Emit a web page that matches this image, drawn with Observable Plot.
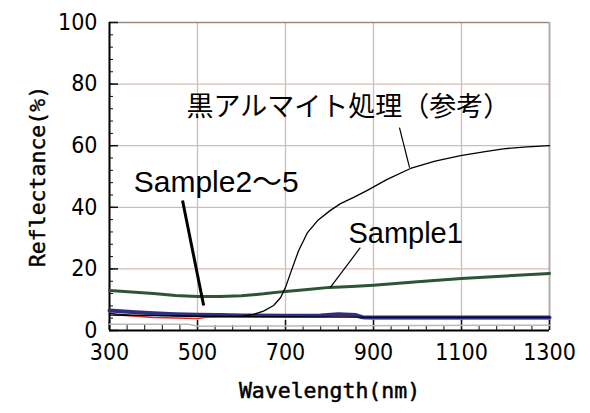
<!DOCTYPE html>
<html>
<head>
<meta charset="utf-8">
<script src="https://cdn.jsdelivr.net/npm/d3@7"></script>
<script src="https://cdn.jsdelivr.net/npm/@observablehq/plot@0.6"></script>
<style>
  html, body { margin: 0; padding: 0; background: #fff; }
</style>
</head>
<body>
<div id="chart"></div>
<script>
// ---- data ----
const xMajor = [300, 500, 700, 900, 1100, 1300];
const yMajor = [0, 20, 40, 60, 80, 100];
const xGrid = [500, 700, 900, 1100];
const yGrid = [20, 40, 60, 80];
const xMinor = d3.range(300, 1301, 40);
const yMinor = d3.range(0, 101, 4);

// 黒アルマイト処理（参考）
const wlAnod = [300, 400, 500, 600, 627, 650, 673, 689, 700, 716, 730, 750, 773, 802, 825, 855, 886, 930, 984, 1040, 1098, 1150, 1195, 1250, 1300];
const rAnod  = [5.0, 4.8, 4.6, 4.6, 5.2, 6.3, 8.1, 10.7, 14.0, 20.5, 26.0, 31.8, 35.7, 39.0, 41.2, 43.2, 45.5, 49.0, 52.6, 55.0, 56.8, 58.0, 59.0, 59.6, 60.0];

// Sample1
const wlS1 = [300, 350, 400, 450, 500, 550, 600, 650, 700, 750, 800, 850, 900, 1000, 1100, 1200, 1300];
const rS1  = [13.0, 12.5, 12.0, 11.4, 11.0, 11.0, 11.3, 11.9, 12.7, 13.3, 14.0, 14.3, 14.7, 15.8, 16.9, 17.7, 18.5];

// Sample2〜5 (blue, red, black, gray)
const wlBlue = [300, 350, 400, 450, 500, 550, 600, 700, 780, 820, 860, 875, 900, 1000, 1100, 1200, 1300];
const rBlue  = [6.5, 6.0, 5.6, 5.3, 5.1, 5.0, 4.9, 4.8, 4.9, 5.3, 5.0, 4.3, 4.2, 4.2, 4.2, 4.2, 4.2];
const wlRed = [300, 320, 400, 500, 520, 600, 700, 860, 880, 1000, 1300];
const rRed  = [5.8, 5.0, 4.2, 3.9, 4.3, 4.4, 4.4, 4.4, 3.9, 3.9, 3.9];
const wlBlk = [300, 350, 500, 700, 900, 1300];
const rBlk  = [5.5, 5.0, 4.6, 4.5, 4.3, 4.3];
const wlGray = [300, 480, 500, 700, 1000, 1300];
const rGray  = [2.0, 2.0, 1.4, 1.5, 1.6, 1.7];

// annotations (data coordinates)
const labels = ["黒アルマイト処理（参考）", "Sample2～5", "Sample1"];
const labelX = [475, 355, 843];
const labelY = [72.4, 48, 31.3];
const labelSize = [27, 30, 29];
const leaderX1 = [959, 466, 870];
const leaderY1 = [65.9, 42.2, 26.9];
const leaderX2 = [982, 514, 802];
const leaderY2 = [52.9, 8.1, 14.0];
const leaderW = [1.2, 3, 1.2];

const toRows = (xs, ys) => xs.map((x, i) => ({x, y: ys[i]}));
const anod = toRows(wlAnod, rAnod);
const s1 = toRows(wlS1, rS1);
const blue = toRows(wlBlue, rBlue);
const red = toRows(wlRed, rRed);
const blk = toRows(wlBlk, rBlk);
const gray = toRows(wlGray, rGray);
const ann = labels.map((t, i) => ({t, x: labelX[i], y: labelY[i], s: labelSize[i]}));
const leaders = labels.map((t, i) => ({x1: leaderX1[i], y1: leaderY1[i], x2: leaderX2[i], y2: leaderY2[i], w: leaderW[i]}));

const tickFont = "'DejaVu Sans Condensed', 'DejaVu Sans', sans-serif";

const chart = Plot.plot({
  width: 590,
  height: 413,
  marginLeft: 109,
  marginRight: 41,
  marginTop: 22,
  marginBottom: 83,
  x: {domain: [300, 1300]},
  y: {domain: [0, 100]},
  style: {background: "#fff", overflow: "visible"},
  marks: [
    // grid
    Plot.ruleX(xGrid, {stroke: "#d0beb4", strokeWidth: 1.3}),
    Plot.ruleY(yGrid, {stroke: "#d0beb4", strokeWidth: 1.3}),
    Plot.ruleY([100], {stroke: "#9c8a80", strokeWidth: 1.6}),
    Plot.ruleX([1300], {stroke: "#b4aca6", strokeWidth: 2}),
    // minor + major ticks (inward)
    Plot.axisX({ticks: xMinor, tickSize: -5, tickFormat: () => "", label: null, stroke: "#111"}),
    Plot.axisX({ticks: xMajor, tickSize: -10, tickFormat: () => "", label: null, stroke: "#111", strokeWidth: 1.5}),
    Plot.axisY({ticks: yMinor, tickSize: -4, tickFormat: () => "", label: null, stroke: "#111"}),
    Plot.axisY({ticks: yMajor, tickSize: -9, tickFormat: () => "", label: null, stroke: "#111", strokeWidth: 1.5}),
    // tick labels
    Plot.axisX({ticks: xMajor, tickSize: 0, tickPadding: 13, tickFormat: d => String(d), label: null,
      fontSize: 23, fontFamily: tickFont, fill: "#000", stroke: "#000", strokeWidth: 0.6}),
    Plot.axisY({ticks: yMajor, tickSize: 0, tickPadding: 12, tickFormat: d => String(d), label: null,
      fontSize: 23, fontFamily: tickFont, fill: "#000", stroke: "#000", strokeWidth: 0.6}),
    // axis lines
    Plot.ruleX([300], {stroke: "#000", strokeWidth: 2}),
    Plot.ruleY([0], {stroke: "#000", strokeWidth: 2}),
    // series
    Plot.line(gray, {x: "x", y: "y", stroke: "#b8b8b8", strokeWidth: 1.5}),
    Plot.line(red, {x: "x", y: "y", stroke: "#e02828", strokeWidth: 1.5}),
    Plot.line(blue, {x: "x", y: "y", stroke: "#2e2f7e", strokeWidth: 4}),
    Plot.line(blk, {x: "x", y: "y", stroke: "#000", strokeWidth: 1}),
    Plot.line(s1, {x: "x", y: "y", stroke: "#2e5438", strokeWidth: 3}),
    Plot.line(anod, {x: "x", y: "y", stroke: "#000", strokeWidth: 1.3}),
    // leaders
    Plot.link(leaders, {x1: "x1", y1: "y1", x2: "x2", y2: "y2", stroke: "#000", strokeWidth: "w"}),
    // annotation texts
    Plot.text([ann[0]], {x: "x", y: "y", text: "t", textAnchor: "start", fontSize: ann[0].s,
      fontFamily: "'Noto Sans CJK JP', sans-serif", fill: "#000"}),
    Plot.text([ann[1]], {x: "x", y: "y", text: "t", textAnchor: "start", fontSize: ann[1].s,
      fontFamily: "'Liberation Sans', 'Noto Sans CJK JP', sans-serif", fill: "#000"}),
    Plot.text([ann[2]], {x: "x", y: "y", text: "t", textAnchor: "start", fontSize: ann[2].s,
      fontFamily: "'Liberation Sans', 'Noto Sans CJK JP', sans-serif", fill: "#000"}),
    // axis titles
    Plot.text(["Wavelength(nm)"], {frameAnchor: "bottom", dy: 67, text: d => d, fontSize: 21.5,
      fontFamily: "'DejaVu Sans Mono', monospace", fill: "#000", stroke: "#000", strokeWidth: 0.5}),
    Plot.text(["Reflectance(%)"], {frameAnchor: "left", dx: -71, rotate: -90, textAnchor: "middle", text: d => d, fontSize: 21.5,
      fontFamily: "'DejaVu Sans Mono', monospace", fill: "#000", stroke: "#000", strokeWidth: 0.4})
  ]
});
document.getElementById("chart").appendChild(chart);
</script>
</body>
</html>
